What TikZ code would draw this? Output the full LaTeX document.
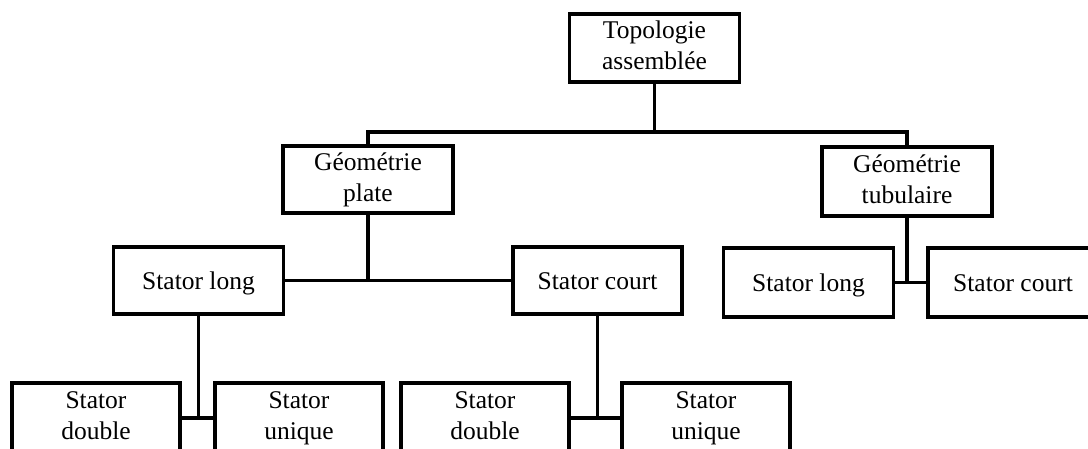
\documentclass[tikz,border=0pt]{standalone}
\usepackage{fontspec}
\setmainfont{Liberation Serif}

\begin{document}
\begin{tikzpicture}[x=1pt,y=-1pt,
   box/.style={draw,line width=3.4pt,inner sep=0pt,align=center,
     minimum width=170pt,minimum height=68pt,
     font=\fontsize{25.5}{31}\selectfont,
     execute at begin node=\rule{0pt}{23.5pt},
     execute at end node=\vphantom{g}},
   link/.style={line width=3.4pt}]

\clip (0,0) rectangle (1088,448);

\node[box] (top) at (654.5,48) {Topologie\\assemblée};

\node[box,minimum height=67pt] (plate) at (368,179.5) {Géométrie\\plate};
\node[box,minimum height=69pt] (tub) at (907,181.5) {Géométrie\\tubulaire};

\node[box,minimum height=67pt] (pllong) at (198.5,280.5) {Stator long};
\node[box,minimum width=169pt,minimum height=67pt] (plcourt) at (597.5,280.5) {Stator court};
\node[box,minimum height=69pt] (tblong) at (808.5,282.5) {Stator long};
\node[box,minimum height=69pt] (tbcourt) at (1013,282.5) {Stator court};

\node[box,minimum width=168pt,minimum height=70pt] (sdouble1) at (96,418) {Stator\\double};
\node[box,minimum width=168pt,minimum height=70pt] (sunique1) at (299,418) {Stator\\unique};
\node[box,minimum width=168pt,minimum height=70pt] (sdouble2) at (485,418) {Stator\\double};
\node[box,minimum width=168pt,minimum height=70pt] (sunique2) at (706,418) {Stator\\unique};

\coordinate (j0) at (654.5,132);
\draw[link] (top.south) -- (j0);
\draw[link] (plate.north) |- (j0) -| (tub.north);

\draw[link] (pllong.east) -- (plcourt.west);
\draw[link] (plate.south) -- (plate.south |- pllong.east);

\draw[link] (tblong.east) -- (tbcourt.west);
\draw[link] (tub.south) -- (tub.south |- tblong.east);

\draw[link] (sdouble1.east) -- (sunique1.west);
\draw[link] (pllong.south) -- (pllong.south |- sdouble1.east);

\draw[link] (sdouble2.east) -- (sunique2.west);
\draw[link] (plcourt.south) -- (plcourt.south |- sdouble2.east);

\end{tikzpicture}
\end{document}
